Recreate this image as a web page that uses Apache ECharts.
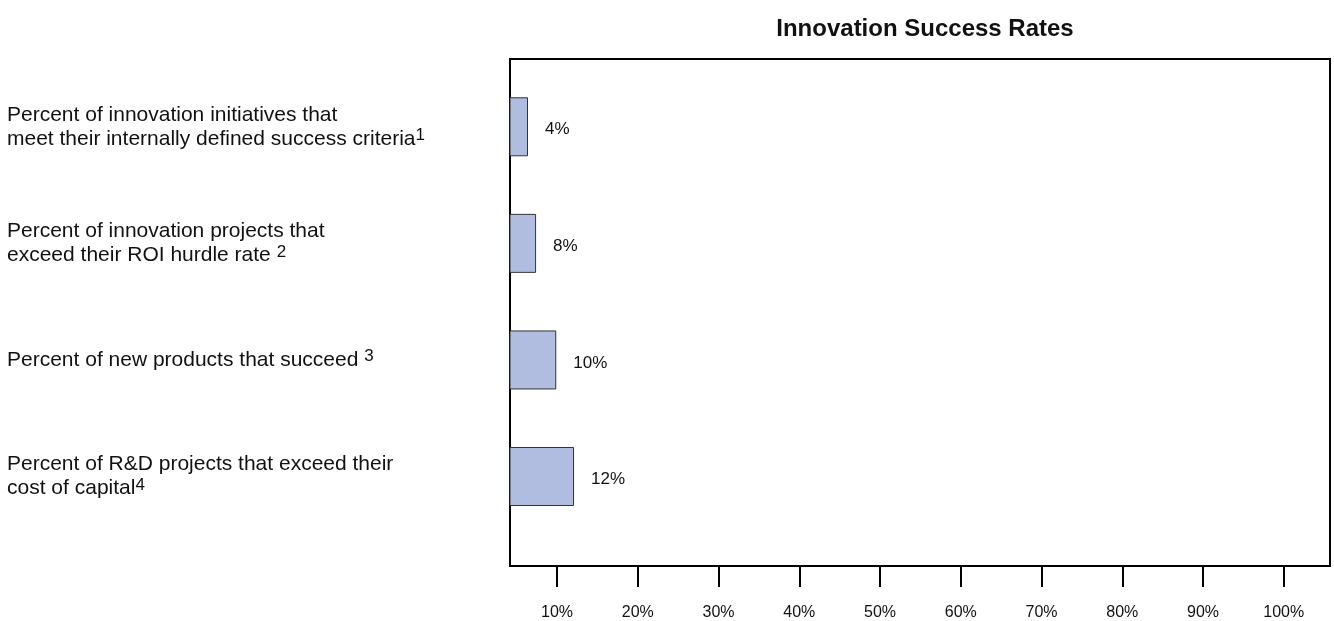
<!DOCTYPE html>
<html>
<head>
<meta charset="utf-8">
<script src="https://cdn.jsdelivr.net/npm/echarts@6/dist/echarts.min.js"></script>
<style>
html,body{margin:0;padding:0;background:#fff;}
#chart{width:1334px;height:621px;}
</style>
</head>
<body>
<div id="chart"></div>
<script>
// ---- data ----
const titleText = 'Innovation Success Rates';
const categories = [
  'Percent of innovation initiatives that\nmeet their internally defined success criteria',
  'Percent of innovation projects that\nexceed their ROI hurdle rate ',
  'Percent of new products that succeed ',
  'Percent of R&D projects that exceed their\ncost of capital'
];
const footnotes = ['1', '2', '3', '4'];
const successRates = [4, 8, 10, 12];          // printed values (%)
const barEnds = [6.4, 7.4, 9.9, 12.1];        // drawn bar extents (%)
const tickValues = [10, 20, 30, 40, 50, 60, 70, 80, 90, 100];

// ---- chart ----
const FONT = '"Liberation Sans", Arial, sans-serif';
const axisMin = 4.17, axisMax = 105.73;

const chart = echarts.init(document.getElementById('chart'), null, {renderer: 'canvas'});

chart.setOption({
  animation: false,
  backgroundColor: '#ffffff',
  title: {
    text: titleText,
    left: 920,
    textAlign: 'center',
    top: 12,
    textStyle: {fontFamily: FONT, fontSize: 24, fontWeight: 'bold', color: '#111'}
  },
  grid: [
    {left: 510, right: 4, top: 59, bottom: 55, show: true, borderColor: '#000', borderWidth: 2, backgroundColor: 'transparent', containLabel: false},
    {left: 510, right: 4, top: 68.5, bottom: 86.2, containLabel: false}
  ],
  xAxis: [
    {
      gridIndex: 0, type: 'value', min: axisMin, max: axisMax, position: 'bottom',
      axisLine: {show: false},
      splitLine: {show: false},
      axisTick: {show: true, customValues: tickValues, length: 21, inside: false, lineStyle: {color: '#000', width: 2}},
      axisLabel: {show: true, customValues: tickValues, margin: 39, formatter: v => v + '%',
        fontFamily: FONT, fontSize: 16, color: '#111'}
    },
    {
      gridIndex: 1, type: 'value', min: axisMin, max: axisMax, show: false
    }
  ],
  yAxis: [
    {gridIndex: 0, type: 'value', show: false},
    {
      gridIndex: 1, type: 'category', inverse: true, data: categories,
      axisLine: {show: false}, axisTick: {show: false}, splitLine: {show: false},
      axisLabel: {
        show: true, align: 'left', margin: 503,
        formatter: (v, i) => v.split('\n').map((line, k, arr) =>
          '{t|' + line + '}' + (k === arr.length - 1 ? '{s|' + footnotes[i] + '}' : '')).join('\n'),
        rich: {
          t: {fontFamily: FONT, fontSize: 21, lineHeight: 24, color: '#111'},
          s: {fontFamily: FONT, fontSize: 17, lineHeight: 20, verticalAlign: 'top', color: '#111'}
        }
      }
    }
  ],
  series: [{
    type: 'bar',
    xAxisIndex: 1, yAxisIndex: 1,
    data: barEnds,
    barWidth: 59,
    clip: true,
    itemStyle: {color: '#b1bde0', borderColor: '#333', borderWidth: 1},
    label: {
      show: true, position: 'right', distance: 17, offset: [0, 3],
      formatter: p => successRates[p.dataIndex] + '%',
      fontFamily: FONT, fontSize: 17, color: '#111'
    }
  }]
});
</script>
</body>
</html>
